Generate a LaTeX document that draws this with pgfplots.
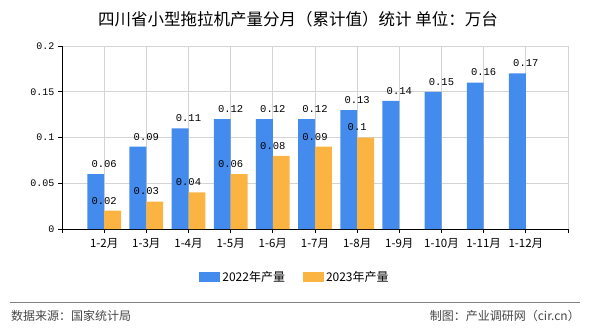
\documentclass[border=0pt]{standalone}
\usepackage{pgfplots}
\pgfplotsset{compat=1.18}
\usepackage{fontspec}
\setmainfont{Noto Sans CJK SC}
\setmonofont{Liberation Mono}
\definecolor{cblue}{RGB}{67,139,236}
\definecolor{corange}{RGB}{251,180,65}
\definecolor{cgrid}{RGB}{212,212,212}
\definecolor{cfoot}{RGB}{70,70,70}
\begin{document}
\begin{tikzpicture}[x=1pt,y=1pt]
\path[use as bounding box] (0,0) rectangle (590,330);
\begin{axis}[at={(62pt,101pt)}, anchor=south west, scale only axis,
  width=506pt, height=183pt,
  xmin=0, xmax=12, ymin=0, ymax=0.2,
  axis x line*=bottom, axis y line*=left,
  axis line style={black, line width=0.8pt},
  xtick={0,...,12},
  xticklabels={,1-2月,1-3月,1-4月,1-5月,1-6月,1-7月,1-8月,1-9月,1-10月,1-11月,1-12月,},
  ytick={0,0.05,0.1,0.15,0.2},
  yticklabels={0,0.05,0.1,0.15,0.2},
  tick align=outside, major tick length=4pt,
  tick style={black, line width=0.8pt},
  xmajorgrids, ymajorgrids,
  grid style={cgrid, line width=0.8pt},
  xticklabel style={font=\fontsize{11.5}{13}\selectfont, yshift=-2pt},
  yticklabel style={font=\ttfamily\fontsize{10}{12}\selectfont},
  legend style={at={(0.4605,-0.262)}, anchor=center, draw=none, fill=none,
    legend columns=2, font=\fontsize{12}{14}\selectfont,
    /tikz/every even column/.append style={column sep=16pt}},
  legend image code/.code={\fill[#1] (0pt,-5pt) rectangle (21pt,5pt);},
  every node near coord/.append style={font=\ttfamily\fontsize{10.5}{12}\selectfont, black, yshift=3pt},
]
\addplot[ybar, bar width=0.4, bar shift=-0.2, fill=cblue, draw=none,
  point meta=explicit symbolic, nodes near coords]
  coordinates {(1,0.06)[0.06] (2,0.09)[0.09] (3,0.11)[0.11] (4,0.12)[0.12]
    (5,0.12)[0.12] (6,0.12)[0.12] (7,0.13)[0.13] (8,0.14)[0.14]
    (9,0.15)[0.15] (10,0.16)[0.16] (11,0.17)[0.17]};
\addlegendentry{2022年产量}
\addplot[ybar, bar width=0.4, bar shift=0.2, fill=corange, draw=none,
  point meta=explicit symbolic, nodes near coords]
  coordinates {(1,0.02)[0.02] (2,0.03)[0.03] (3,0.04)[0.04] (4,0.06)[0.06]
    (5,0.08)[0.08] (6,0.09)[0.09] (7,0.1)[0.1]};
\addlegendentry{2023年产量}
\end{axis}
\node[font=\fontsize{16.5}{18}\selectfont] at (298,311) {四川省小型拖拉机产量分月（累计值）统计 单位：万台};
\draw[gray, line width=1pt] (10,28) -- (580,28);
\node[anchor=west, text=cfoot, font=\fontsize{12}{14}\selectfont, inner sep=0pt] at (11,14) {数据来源：国家统计局};
\node[anchor=east, text=cfoot, font=\fontsize{12}{14}\selectfont, inner sep=0pt] at (580,14) {制图：产业调研网（cir.cn）};
\end{tikzpicture}
\end{document}
